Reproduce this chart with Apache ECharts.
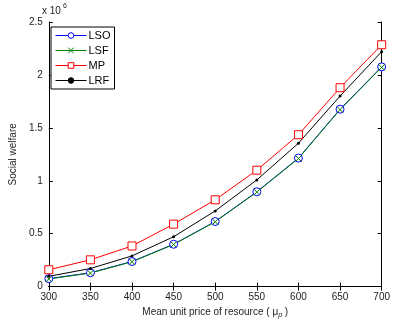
<!DOCTYPE html>
<html>
<head>
<meta charset="utf-8">
<script src="https://cdn.jsdelivr.net/npm/echarts@6/dist/echarts.min.js"></script>
<style>
  html, body { margin: 0; padding: 0; background: #fff; }
  #chart { width: 393px; height: 324px; }
</style>
</head>
<body>
<div id="chart"></div>
<script>
// mean unit price of resource
const prices = [300, 350, 400, 450, 500, 550, 600, 650, 700];
// social welfare, in units of 1e6
const lso = [0.075, 0.131, 0.237, 0.400, 0.615, 0.896, 1.214, 1.676, 2.076];
const lsf = [0.072, 0.128, 0.235, 0.398, 0.613, 0.893, 1.211, 1.672, 2.072];
const mp  = [0.159, 0.253, 0.384, 0.590, 0.820, 1.100, 1.435, 1.879, 2.285];
const lrf = [0.097, 0.171, 0.290, 0.471, 0.715, 1.008, 1.355, 1.800, 2.220];
const yTicks = [0, 0.5, 1, 1.5, 2, 2.5];

const FONT = 'Liberation Sans, Arial, sans-serif';
const toPairs = arr => arr.map((v, i) => [prices[i], v * 1e6]);

const chart = echarts.init(document.getElementById('chart'));

const mkSeries = (name, data, color, symbol, size, extra) => Object.assign({
    name: name,
    type: 'line',
    data: toPairs(data),
    symbol: symbol,
    symbolSize: size,
    showAllSymbol: true,
    silent: true,
    lineStyle: { color: color, width: 1 },
    itemStyle: { color: '#fff', borderColor: color, borderWidth: 1 },
    emphasis: { disabled: true },
    animation: false
}, extra || {});

const option = {
    backgroundColor: '#fff',
    textStyle: { fontFamily: FONT },
    grid: { left: 43, right: 10, top: 22, bottom: 35 },
    // exponent note above the y axis
    graphic: [
        { type: 'text', x: 42, y: 6, silent: true, style: { text: 'x 10', font: '10px ' + FONT, fill: '#222' } },
        { type: 'text', x: 63, y: 3, silent: true, style: { text: '6', font: '7px ' + FONT, fill: '#222' } }
    ],
    legend: {
        left: 51, top: 27,
        orient: 'vertical',
        selectedMode: false,
        itemWidth: 31, itemHeight: 7, itemGap: 4,
        padding: [3, 4, 3, 4],
        backgroundColor: '#fff',
        borderColor: '#000', borderWidth: 1, borderRadius: 0,
        lineStyle: { width: 1 },
        itemStyle: { borderWidth: 1 },
        textStyle: { fontFamily: FONT, fontSize: 11, color: '#000', padding: [0, 0, 0, -3] },
        data: ['LSO', 'LSF', 'MP', 'LRF']
    },
    xAxis: [{
        type: 'value', min: 300, max: 700, interval: 50,
        name: 'Mean unit price of resource ( μ{s|p} )',
        nameLocation: 'middle', nameGap: 18,
        nameTextStyle: { fontSize: 10, color: '#222', fontFamily: FONT,
            rich: { s: { fontSize: 7, padding: [6, 0, 0, 0], fontStyle: 'italic', fontFamily: FONT, color: '#222' } } },
        axisLine: { lineStyle: { color: '#000', width: 1 } },
        axisTick: { inside: true, length: 4, lineStyle: { color: '#000' } },
        axisLabel: { fontSize: 10, color: '#222', margin: 6, fontFamily: FONT },
        splitLine: { show: false }
    }, {
        type: 'value', min: 300, max: 700, interval: 50, position: 'top',
        axisLine: { lineStyle: { color: '#000', width: 1 } },
        axisTick: { inside: true, length: 4, lineStyle: { color: '#000' } },
        axisLabel: { show: false },
        splitLine: { show: false }
    }],
    yAxis: [{
        type: 'value', min: 0, max: 2.5e6, interval: 0.5e6,
        name: 'Social welfare',
        nameLocation: 'middle', nameGap: 27,
        nameTextStyle: { fontSize: 10, color: '#222', fontFamily: FONT },
        axisLine: { show: true, lineStyle: { color: '#000', width: 1 } },
        axisTick: { show: true, inside: true, length: 4, lineStyle: { color: '#000' } },
        axisLabel: {
            fontSize: 10, color: '#222', margin: 6, fontFamily: FONT,
            formatter: v => {
                const t = yTicks.find(k => Math.abs(k * 1e6 - v) < 1);
                return t === undefined ? '' : String(t);
            }
        },
        splitLine: { show: false }
    }, {
        type: 'value', min: 0, max: 2.5e6, interval: 0.5e6, position: 'right',
        axisLine: { show: true, lineStyle: { color: '#000', width: 1 } },
        axisTick: { show: true, inside: true, length: 4, lineStyle: { color: '#000' } },
        axisLabel: { show: false },
        splitLine: { show: false }
    }],
    series: [
        mkSeries('LSO', lso, '#0000ff', 'circle', 8),
        mkSeries('LSF', lsf, '#008000', 'path://M0,0L10,10M10,0L0,10', 6),
        mkSeries('MP', mp, '#ff0000', 'rect', 8),
        mkSeries('LRF', lrf, '#000000', 'circle', 3, {
            itemStyle: { color: '#000', borderColor: '#000', borderWidth: 0 }
        })
    ]
};

chart.setOption(option);
</script>
</body>
</html>
